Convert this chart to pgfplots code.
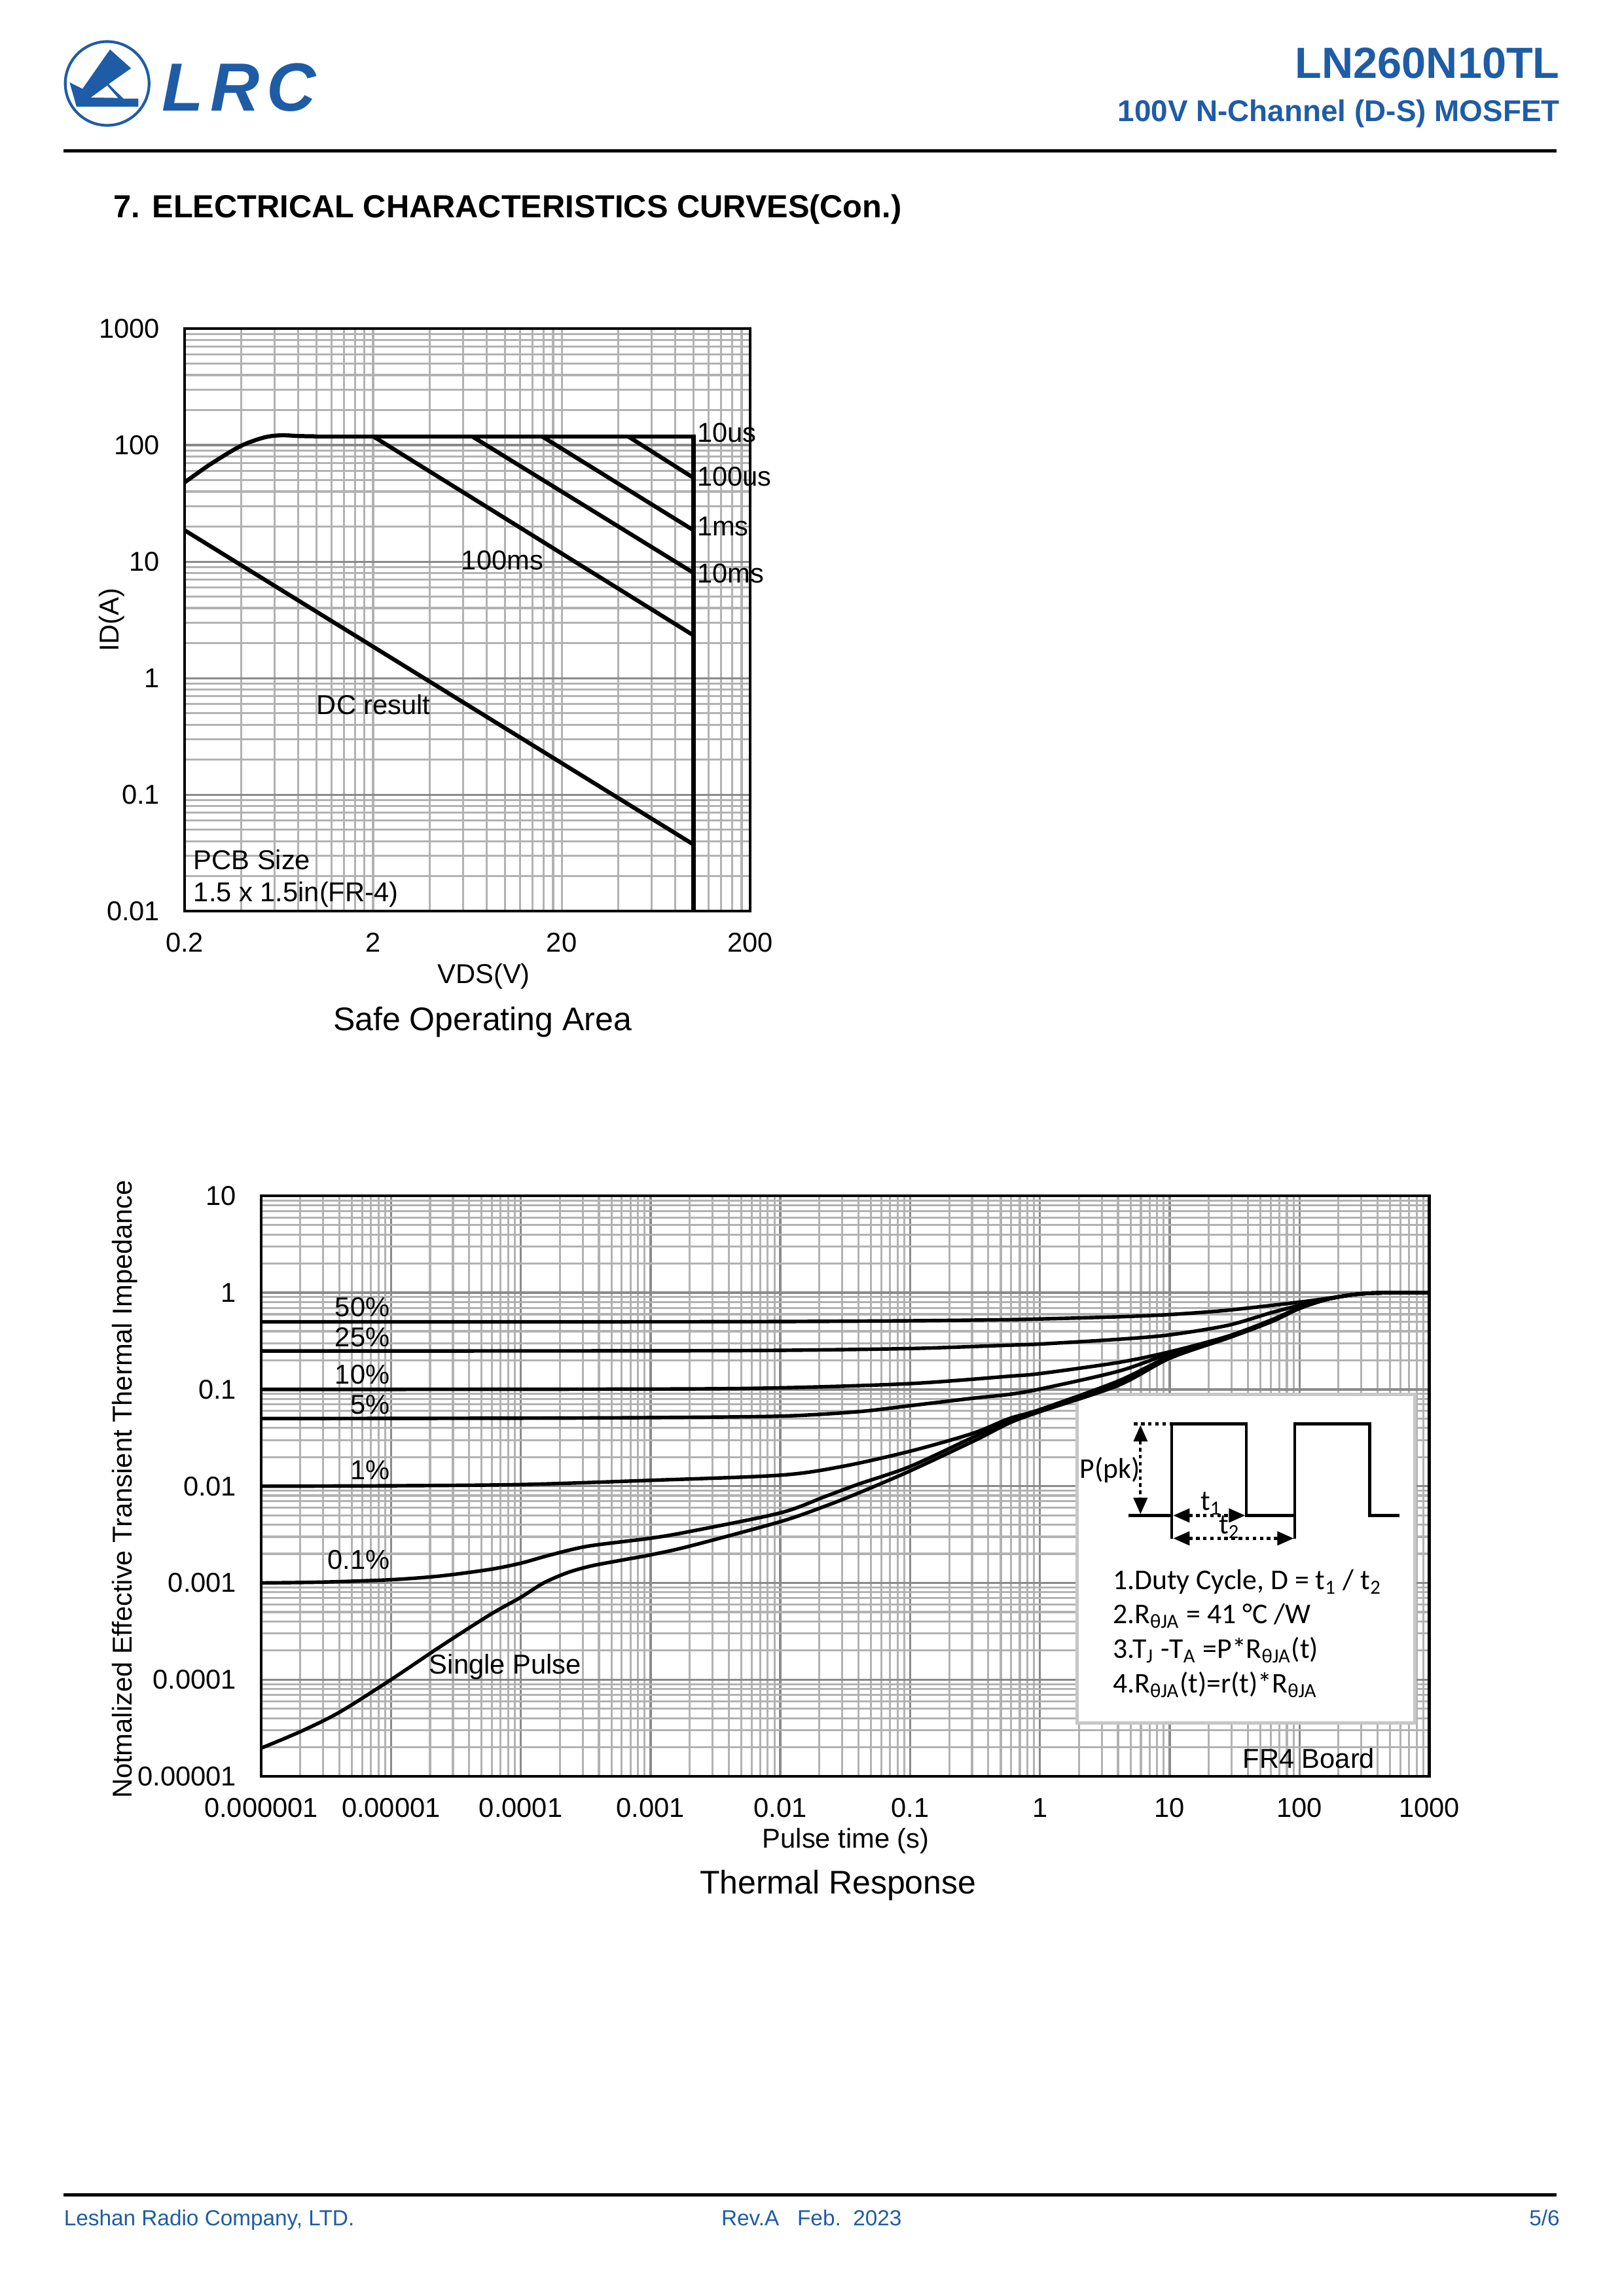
\documentclass[border=0pt]{standalone}
\usepackage{fontspec}
\setmainfont{Liberation Sans}
\newfontfamily\carlito{Carlito}
\usepackage{pgfplots}
\pgfplotsset{compat=1.18}
\usetikzlibrary{arrows.meta}
\definecolor{lrcblue}{RGB}{30,92,166}
\definecolor{gminor}{RGB}{178,178,178}
\definecolor{gmajor}{RGB}{138,138,138}
\pgfplotsset{
  mygrid/.style={
    scale only axis,
    grid=both,
    major grid style={draw=gmajor, line width=0.8pt},
    minor grid style={draw=gminor, line width=0.75pt},
    major tick length=0pt, minor tick length=0pt,
    axis line style={line width=1pt},
    tick label style={font=\fontsize{10}{12}\selectfont, inner sep=0pt},
    xticklabel style={anchor=north, yshift=-7.8pt},
    yticklabel style={anchor=east, xshift=-8.9pt},
    clip=true,
  }
}
\begin{document}
\begin{tikzpicture}
\path[use as bounding box] (0,0) rectangle (595.28pt,-841.89pt);

% ---------------- Safe Operating Area ----------------
\begin{axis}[xmode=log, ymode=log, mygrid,
  at={(67.69pt,-334.14pt)}, anchor=south west,
  width=207.39pt, height=213.64pt,
  xmin=0.2, xmax=200, ymin=0.01, ymax=1000,
  xtick={0.2,2,20,200}, xticklabels={0.2,2,20,200},
  ytick={0.01,0.1,1,10,100,1000}, yticklabels={0.01,0.1,1,10,100,1000},
  minor xtick={0.4,0.6,0.8,1,1.2,1.4,1.6,1.8,4,6,8,10,12,14,16,18,40,60,80,100,120,140,160,180},
  minor ytick={0.02,0.03,0.04,0.05,0.06,0.07,0.08,0.09,0.2,0.3,0.4,0.5,0.6,0.7,0.8,0.9,2,3,4,5,6,7,8,9,20,30,40,50,60,70,80,90,200,300,400,500,600,700,800,900},
  major x grid style={draw=gminor, line width=0.8pt},
]
\addplot[black, line width=1.5pt, smooth, tension=0.5] coordinates {(0.2,47.9) (0.271,67.8) (0.394,97.8) (0.528,116.4) (0.652,121.5) (0.8,119.8) (1,119)};
\addplot[black, line width=1.5pt] coordinates {(1,119) (100,119) (100,0.01)};
\addplot[black, line width=1.5pt] coordinates {(44.9,119) (100,52.4)};
\addplot[black, line width=1.5pt] coordinates {(15.7,119) (100,18.6)};
\addplot[black, line width=1.5pt] coordinates {(6.69,119) (100,8.02)};
\addplot[black, line width=1.5pt] coordinates {(2.0,119) (100,2.33)};
\addplot[black, line width=1.5pt] coordinates {(0.2,18.6) (100,0.0374)};
\end{axis}

% ---------------- Thermal Response ----------------
\begin{axis}[xmode=log, ymode=log, mygrid,
  at={(95.78pt,-651.35pt)}, anchor=south west,
  width=428.23pt, height=212.80pt,
  xmin=1e-6, xmax=1000, ymin=1e-5, ymax=10,
  xtick={1e-6,1e-5,1e-4,1e-3,0.01,0.1,1,10,100,1000},
  xticklabels={0.000001,0.00001,0.0001,0.001,0.01,0.1,1,10,100,1000},
  ytick={1e-5,1e-4,1e-3,0.01,0.1,1,10},
  yticklabels={0.00001,0.0001,0.001,0.01,0.1,1,10},
  minor xtick={2e-6,3e-6,4e-6,5e-6,6e-6,7e-6,8e-6,9e-6,
    2e-5,3e-5,4e-5,5e-5,6e-5,7e-5,8e-5,9e-5,
    2e-4,3e-4,4e-4,5e-4,6e-4,7e-4,8e-4,9e-4,
    0.002,0.003,0.004,0.005,0.006,0.007,0.008,0.009,
    0.02,0.03,0.04,0.05,0.06,0.07,0.08,0.09,
    0.2,0.3,0.4,0.5,0.6,0.7,0.8,0.9,
    2,3,4,5,6,7,8,9,20,30,40,50,60,70,80,90,200,300,400,500,600,700,800,900},
  minor ytick={2e-5,3e-5,4e-5,5e-5,6e-5,7e-5,8e-5,9e-5,
    2e-4,3e-4,4e-4,5e-4,6e-4,7e-4,8e-4,9e-4,
    0.002,0.003,0.004,0.005,0.006,0.007,0.008,0.009,
    0.02,0.03,0.04,0.05,0.06,0.07,0.08,0.09,
    0.2,0.3,0.4,0.5,0.6,0.7,0.8,0.9,2,3,4,5,6,7,8,9},
]
\draw[fill=white, draw=black!22, line width=1.3pt] (rel axis cs:0.6984,0.0919) rectangle (rel axis cs:0.9877,0.6582);
% 50%
\addplot[black, line width=1.3pt, smooth] coordinates {(1e-6,0.5) (1e-3,0.501) (0.01,0.504) (0.1,0.513) (0.58,0.527) (1,0.536) (4,0.564) (10,0.595) (28,0.66) (100,0.8) (160,0.87) (250,0.95) (350,0.99) (500,1) (1000,1)};
% 25%
\addplot[black, line width=1.3pt, smooth] coordinates {(1e-6,0.25) (1e-3,0.251) (0.01,0.254) (0.1,0.265) (0.58,0.287) (1,0.295) (4,0.33) (10,0.367) (28,0.46) (60,0.62) (100,0.74) (160,0.86) (250,0.95) (350,0.99) (500,1) (1000,1)};
% 10%
\addplot[black, line width=1.3pt, smooth] coordinates {(1e-6,0.1) (1e-3,0.101) (0.01,0.104) (0.1,0.115) (0.58,0.137) (1,0.146) (4,0.19) (10,0.245) (28,0.355) (60,0.52) (100,0.7) (160,0.85) (250,0.95) (350,0.99) (500,1) (1000,1)};
% 5%
\addplot[black, line width=1.3pt, smooth] coordinates {(1e-6,0.05) (1e-4,0.0505) (1e-3,0.0512) (0.01,0.053) (0.04,0.059) (0.1,0.068) (0.3,0.081) (0.58,0.089) (1,0.101) (4,0.154) (10,0.235) (28,0.35) (60,0.51) (100,0.69) (160,0.85) (250,0.95) (350,0.99) (500,1) (1000,1)};
% 1%
\addplot[black, line width=1.3pt, smooth] coordinates {(1e-6,0.01) (1e-5,0.0101) (1e-4,0.0104) (1e-3,0.0115) (0.01,0.013) (0.03,0.016) (0.1,0.023) (0.3,0.035) (0.58,0.05) (1,0.062) (4,0.122) (10,0.22) (28,0.345) (60,0.5) (100,0.69) (160,0.85) (250,0.95) (350,0.99) (500,1) (1000,1)};
% 0.1%
\addplot[black, line width=1.3pt, smooth] coordinates {(1e-6,0.001) (3e-6,0.00102) (1e-5,0.00108) (2.4e-5,0.00118) (5.8e-5,0.00138) (1e-4,0.0016) (1.7e-4,0.00195) (3.3e-4,0.0024) (1e-3,0.0029) (2e-3,0.0034) (0.01,0.0053) (0.022,0.0078) (0.04,0.0105) (0.1,0.016) (0.32,0.033) (0.58,0.047) (1,0.06) (4,0.116) (10,0.215) (28,0.34) (60,0.5) (100,0.69) (160,0.85) (250,0.95) (350,0.99) (500,1) (1000,1)};
% single pulse
\addplot[black, line width=1.3pt, smooth] coordinates {(1e-6,1.96e-5) (2e-6,2.9e-5) (4e-6,4.6e-5) (1e-5,1e-4) (2.4e-5,2.2e-4) (5.8e-5,4.7e-4) (1e-4,7.1e-4) (1.5e-4,0.001) (2.3e-4,0.00128) (3.5e-4,0.0015) (6e-4,0.00172) (1e-3,0.00195) (2e-3,0.0024) (0.01,0.0043) (0.022,0.0062) (0.04,0.0085) (0.1,0.0144) (0.32,0.03) (0.58,0.045) (1,0.059) (4,0.11) (10,0.21) (28,0.34) (60,0.5) (100,0.69) (160,0.85) (250,0.95) (350,0.99) (500,1) (1000,1)};
\end{axis}

\begin{scope}[x=0.24004pt, y=-0.24004pt]
% header
\fill[lrcblue] (168.0,75.6) -- (200.2,104.4) -- (166.0,128.4) -- (188.4,150.6) -- (211.4,150.6) -- (211.4,162.8) -- (116.8,162.8) -- (106.3,125.8) -- (126.0,135.7) -- cycle;
\fill[white] (139.1,148.9) -- (163.7,130.8) -- (180.2,149.6) -- cycle;
\draw[lrcblue, line width=1pt] (163.7,127.5) circle [radius=64];
\node[anchor=base west, inner sep=0pt, text=lrcblue, font=\fontsize{25}{25}\selectfont\bfseries\itshape] at (247,169) {L\hspace{2.5pt}R\hspace{2.5pt}C};
\node[anchor=base east, inner sep=0pt, text=lrcblue, font=\fontsize{16}{19}\selectfont\bfseries] at (2383,119) {LN260N10TL};
\node[anchor=base east, inner sep=0pt, text=lrcblue, font=\fontsize{11}{13}\selectfont\bfseries] at (2383,185) {100V N-Channel (D-S) MOSFET};
\draw[line width=1.2pt] (97,230) -- (2378,230);
\node[anchor=base west, inner sep=0pt, font=\fontsize{11.7}{14}\selectfont\bfseries] at (173,332) {7. ELECTRICAL CHARACTERISTICS CURVES(Con.)};

% SOA annotations
\begin{scope}[every node/.style={inner sep=0pt, font=\fontsize{10}{12}\selectfont}]
\node[anchor=base west] at (1064,675) {10us};
\node[anchor=base west] at (1064,742) {100us};
\node[anchor=base west] at (1064,818) {1ms};
\node[anchor=base west] at (1064,890) {10ms};
\node[anchor=base west] at (704,870) {100ms};
\node[anchor=base west] at (483,1091) {DC result};
\node[anchor=base west] at (295,1328) {PCB Size};
\node[anchor=base west] at (295,1377) {1.5 x 1.5in(FR-4)};
\node[anchor=base] at (739,1502) {VDS(V)};
\node[rotate=90] at (171,947) {ID(A)};
\node[anchor=base, font=\fontsize{12}{14}\selectfont] at (737,1574) {Safe Operating Area};

% Thermal annotations
\node[anchor=base east] at (596,2011) {50\%};
\node[anchor=base east] at (596,2057) {25\%};
\node[anchor=base east] at (596,2114) {10\%};
\node[anchor=base east] at (596,2160) {5\%};
\node[anchor=base east] at (596,2260) {1\%};
\node[anchor=base east] at (596,2397) {0.1\%};
\node[anchor=base west] at (655,2557) {Single Pulse};
\node[anchor=base] at (1999,2701) {FR4 Board};
\node[anchor=base] at (1292,2823) {Pulse time (s)};
\node[rotate=90] at (191,2275) {Notmalized Effective Transient Thermal Impedance};
\node[anchor=base, font=\fontsize{12}{14}\selectfont] at (1280,2893) {Thermal Response};
\end{scope}

% pulse diagram
\draw[line width=1pt] (1724,2315) -- (1790,2315);
\draw[line width=1pt] (1790,2351) -- (1790,2175) -- (1904,2175) -- (1904,2315) -- (1978,2315);
\draw[line width=1pt] (1978,2351) -- (1978,2175) -- (2092,2175) -- (2092,2315) -- (2138,2315);
\draw[line width=1pt, dash pattern=on 1.3pt off 1.3pt] (1732,2175) -- (1790,2175);
\draw[line width=1pt, dash pattern=on 1.3pt off 1.3pt, {Triangle[length=6pt,width=5pt]}-{Triangle[length=6pt,width=5pt]}] (1742,2177) -- (1742,2313);
\draw[line width=1pt, dash pattern=on 1.3pt off 1.3pt, {Triangle[length=6pt,width=5pt]}-{Triangle[length=6pt,width=5pt]}] (1792,2315) -- (1902,2315);
\draw[line width=1pt, dash pattern=on 1.3pt off 1.3pt, {Triangle[length=6pt,width=5pt]}-{Triangle[length=6pt,width=5pt]}] (1792,2350) -- (1976,2350);
\begin{scope}[every node/.style={inner sep=0pt, font=\carlito\fontsize{10.5}{12}\selectfont}]
\node[anchor=east] at (1742,2246) {P(pk)};
\node at (1850,2297) {t\textsubscript{1}};
\node at (1878,2333) {t\textsubscript{2}};
\node[anchor=base west] at (1699,2428) {1.Duty Cycle, D = t\textsubscript{1} / t\textsubscript{2}};
\node[anchor=base west] at (1699,2480) {2.R\textsubscript{θJA} = 41 °C /W};
\node[anchor=base west] at (1699,2533) {3.T\textsubscript{J} -T\textsubscript{A} =P*R\textsubscript{θJA}(t)};
\node[anchor=base west] at (1699,2586) {4.R\textsubscript{θJA}(t)=r(t)*R\textsubscript{θJA}};
\end{scope}

% footer
\draw[line width=1.2pt] (97,3353) -- (2378,3353);
\begin{scope}[every node/.style={inner sep=0pt, text=lrcblue, font=\fontsize{8}{10}\selectfont}]
\node[anchor=base west] at (97,3400) {Leshan Radio Company, LTD.};
\node[anchor=base west] at (1101,3400) {Rev.A\ \ \ Feb.\ \ 2023};
\node[anchor=base east] at (2383,3400) {5/6};
\end{scope}
\end{scope}
\end{tikzpicture}
\end{document}
